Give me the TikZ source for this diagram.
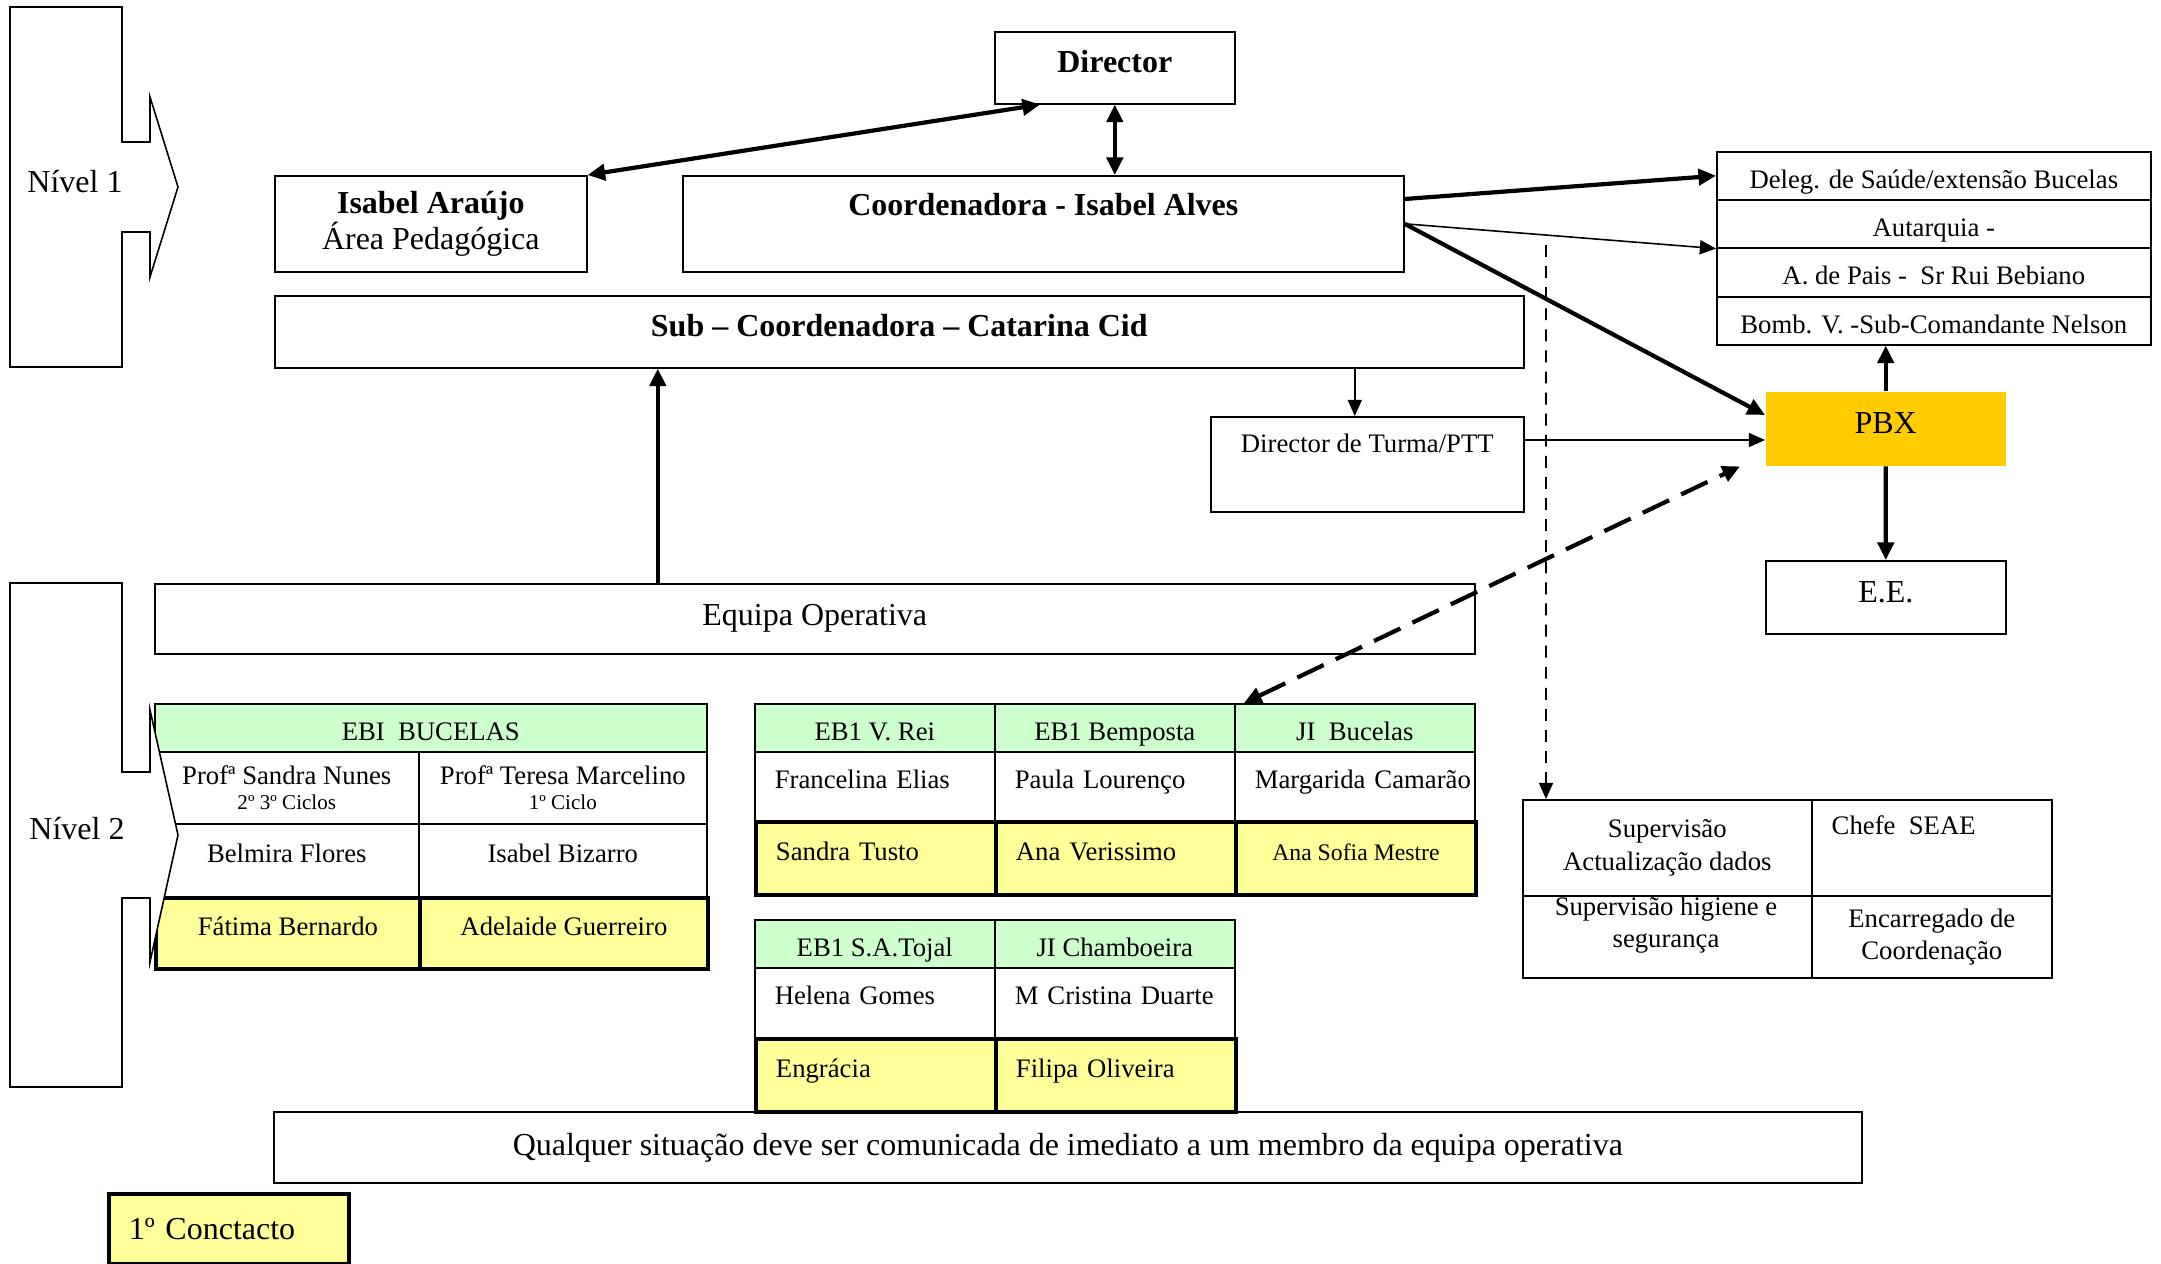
\documentclass[tikz,border=0pt]{standalone}
\usepackage{fontspec}
\setmainfont{Liberation Serif}
\usetikzlibrary{arrows.meta}

\definecolor{headgreen}{HTML}{CCFFCC}
\definecolor{contactyellow}{HTML}{FFFF99}
\definecolor{pbxgold}{HTML}{FFCC00}

\newcommand{\bigtxt}{\fontsize{9.1pt}{10pt}\selectfont}
\newcommand{\tabtxt}{\fontsize{7.6pt}{9.2pt}\selectfont}
\newcommand{\tinytxt}{\fontsize{6pt}{7pt}\selectfont}

\tikzset{
  box/.style={draw, line width=0.45pt, inner sep=0pt, anchor=north west, font=\bigtxt},
  liftbig/.style={text height=2.2mm, text depth=1.2mm},
  cell/.style={box, font=\tabtxt},
  single/.style={text height=2mm, text depth=1.6mm},
  rowtext/.style={text height=2.6mm, text depth=0.1mm},
  headcell/.style={cell, rowtext, fill=headgreen},
  contactcell/.style={cell, single, fill=contactyellow, line width=1.1pt},
  leftcell/.style={align=left, text width=20mm},
  levelshape/.style={draw, line width=0.45pt, fill=white},
  bigarrow/.style={line width=1.2pt, >={Triangle[length=5pt,width=4.6pt]}},
  thinarrow/.style={line width=0.45pt, >={Triangle[length=4.6pt,width=4pt]}},
  bigdash/.style={bigarrow, dash pattern=on 8.3pt off 3.8pt},
  thindash/.style={thinarrow, dash pattern=on 3.4pt off 2.6pt}
}

\begin{document}
\begin{tikzpicture}[x=0.1mm, y=-0.1mm]
    \fill[white] (0,0) rectangle (2161,1263);
    \useasboundingbox (0,0) rectangle (2161,1263);

    % level 1
    \node[box, font=\bigtxt\bfseries, liftbig, minimum width=24mm, minimum height=7.2mm] (dir) at (994,31) {Director};
    \node[box, align=center, minimum width=31.2mm, minimum height=9.6mm] (isa) at (274,175) {\textbf{Isabel Araújo}\\Área Pedagógica};
    \node[box, minimum width=72.1mm, minimum height=9.6mm] (coo) at (682,175) {};
    \node[font=\bigtxt\bfseries] (cootext) at ([yshift=-3mm]coo.north) {Coordenadora - Isabel Alves};
    \node[box, font=\bigtxt\bfseries, liftbig, minimum width=124.9mm, minimum height=7.2mm] (sub) at (274,295) {Sub – Coordenadora – Catarina Cid};
    \node[box, minimum width=31.3mm, minimum height=9.5mm] (dt) at (1210,416) {};
    \node[font=\tabtxt] (dttext) at ([yshift=-2.75mm]dt.north) {Director de Turma/PTT};

    % outside contacts
    \node[cell, rowtext, minimum width=43.4mm, minimum height=4.8mm] (deleg1) at (1716,151) {Deleg. de Saúde/extensão Bucelas};
    \node[cell, rowtext, minimum width=43.4mm, minimum height=4.8mm] (deleg2) at (1716,199) {Autarquia -};
    \node[cell, rowtext, minimum width=43.4mm, minimum height=4.9mm] (deleg3) at (1716,247) {A. de Pais -\ \ Sr Rui Bebiano};
    \node[cell, rowtext, minimum width=43.4mm, minimum height=4.8mm] (deleg4) at (1716,296) {Bomb. V. -Sub-Comandante Nelson};
    \node[fill=pbxgold, inner sep=0pt, anchor=north west, font=\bigtxt, liftbig, minimum width=24mm, minimum height=7.4mm] (pbx) at (1765,391) {PBX};
    \node[box, liftbig, minimum width=24mm, minimum height=7.3mm] (ee) at (1765,560) {E.E.};

    % level 2
    \node[box, minimum width=132mm, minimum height=7mm] (eq) at (154,583) {Equipa Operativa};

    \node[headcell, minimum width=55.2mm, minimum height=4.8mm] (ebi) at (154,703) {EBI\ \ BUCELAS};
    \node[cell, align=center, minimum width=26.4mm, minimum height=7.2mm] (sandra) at (154,751) {Profª Sandra Nunes\\[-1.9pt]{\tinytxt 2º 3º Ciclos}};
    \node[cell, align=center, minimum width=28.8mm, minimum height=7.2mm] (teresa) at (418,751) {Profª Teresa Marcelino\\[-1.9pt]{\tinytxt 1º Ciclo}};
    \node[cell, single, minimum width=26.4mm, minimum height=7.3mm] (belmira) at (154,823) {Belmira Flores};
    \node[cell, single, minimum width=28.8mm, minimum height=7.3mm] (bizarro) at (418,823) {Isabel Bizarro};
    \node[contactcell, minimum width=26.4mm, minimum height=7.1mm] (fatima) at (154,896) {Fátima Bernardo};
    \node[contactcell, minimum width=28.8mm, minimum height=7.1mm] (adelaide) at (418,896) {Adelaide Guerreiro};

    \node[headcell, minimum width=24mm, minimum height=4.8mm] (vrei) at (754,703) {EB1 V. Rei};
    \node[headcell, minimum width=24mm, minimum height=4.8mm] (bemposta) at (994,703) {EB1 Bemposta};
    \node[headcell, minimum width=24mm, minimum height=4.8mm] (jibucelas) at (1234,703) {JI\ \ Bucelas};
    \node[cell, single, leftcell, minimum width=24mm, minimum height=6.9mm] (francelina) at (754,751) {Francelina Elias};
    \node[cell, single, leftcell, minimum width=24mm, minimum height=6.9mm] (paula) at (994,751) {Paula Lourenço};
    \node[cell, single, leftcell, minimum width=24mm, minimum height=6.9mm] (margarida) at (1234,751) {\mbox{Margarida Camarão}};
    \node[contactcell, leftcell, minimum width=24mm, minimum height=7.3mm] (tusto) at (754,820) {Sandra Tusto};
    \node[contactcell, leftcell, minimum width=24mm, minimum height=7.3mm] (verissimo) at (994,820) {Ana Verissimo};
    \node[contactcell, font=\fontsize{6.75pt}{8pt}\selectfont, minimum width=24mm, minimum height=7.3mm] (sofia) at (1234,820) {Ana Sofia Mestre};

    \node[headcell, minimum width=24mm, minimum height=4.8mm] (tojal) at (754,919) {EB1 S.A.Tojal};
    \node[headcell, minimum width=24mm, minimum height=4.8mm] (chamboeira) at (994,919) {JI Chamboeira};
    \node[cell, single, leftcell, minimum width=24mm, minimum height=7mm] (helena) at (754,967) {Helena Gomes};
    \node[cell, single, leftcell, minimum width=24mm, minimum height=7mm] (cristina) at (994,967) {M Cristina Duarte};
    \node[contactcell, leftcell, minimum width=24mm, minimum height=7.3mm] (engracia) at (754,1037) {Engrácia};
    \node[contactcell, leftcell, minimum width=24mm, minimum height=7.3mm] (filipa) at (994,1037) {Filipa Oliveira};

    % supervision
    \node[cell, align=center, minimum width=28.9mm, minimum height=9.6mm] (supdados) at (1522,799) {Supervisão\\Actualização dados};
    \node[cell, minimum width=24mm, minimum height=9.6mm] (chefe) at (1811,799) {};
    \node[font=\tabtxt, anchor=base west, inner sep=0pt] (chefetext) at (1831,834) {Chefe\ \ SEAE};
    \node[cell, minimum width=28.9mm, minimum height=8.2mm] (suphig) at (1522,895) {};
    \node[font=\tabtxt, align=center, inner sep=0pt] (suphigtext) at (1666,925) {Supervisão higiene e\\segurança};
    \node[cell, align=center, minimum width=24mm, minimum height=8.2mm] (encarr) at (1811,895) {Encarregado de\\Coordenação};

    \node[box, minimum width=158.8mm, minimum height=7.1mm] (qq) at (273,1111) {Qualquer situação deve ser comunicada de imediato a um membro da equipa operativa};
    \node[box, fill=contactyellow, line width=1.1pt, align=left, text width=20mm, minimum width=24mm, minimum height=7mm] (first) at (107,1192) {1º Conctacto};

    % level arrows
    \draw[levelshape] (10,7) -- (122,7) -- (122,142) -- (150,142) -- (150,97) -- (178,187) -- (150,277) -- (150,232) -- (122,232) -- (122,367) -- (10,367) -- cycle;
    \node[font=\bigtxt] (niv1) at (75,182) {Nível 1};
    \draw[levelshape] (10,583) -- (122,583) -- (122,772) -- (150,772) -- (150,710) -- (178,835) -- (150,962) -- (150,898) -- (122,898) -- (122,1087) -- (10,1087) -- cycle;
    \node[font=\bigtxt] (niv2) at (77,829) {Nível 2};

    % connectors
    \draw[bigarrow,<->] (isa.north east) -- ([xshift=4.6mm]dir.south west);
    \draw[bigarrow,<->] (dir.south) -- (dir.south |- coo.north);
    \draw[bigarrow,->] ([yshift=-2.4mm]coo.north east) -- (deleg1.west);
    \draw[thinarrow,->] (coo.east) -- (deleg2.south west);
    \draw[bigarrow,->] (coo.east) -- ([yshift=-2.4mm]pbx.north west);
    \draw[bigarrow,->] (pbx.north) -- (pbx.north |- deleg4.south);
    \draw[bigarrow,->] (pbx.south) -- (ee.north);
    \draw[thinarrow,->] ([xshift=-1.25mm]dt.north |- sub.south) -- ([xshift=-1.25mm]dt.north);
    \draw[thinarrow,->] ([yshift=-2.4mm]dt.north east) -- ([yshift=-2.4mm]dt.north east -| pbx.west);
    \draw[bigarrow,->] ([xshift=-15.7mm]eq.north) -- ([xshift=-15.7mm]eq.north |- sub.south);
    \draw[bigdash,<->] ([xshift=1mm]jibucelas.north west) -- ([xshift=-2.5mm]pbx.south west);
    \coordinate (dashtop) at (1546,245);
    \draw[thindash,->] (dashtop) -- ([xshift=2.4mm]supdados.north west);
\end{tikzpicture}
\end{document}
